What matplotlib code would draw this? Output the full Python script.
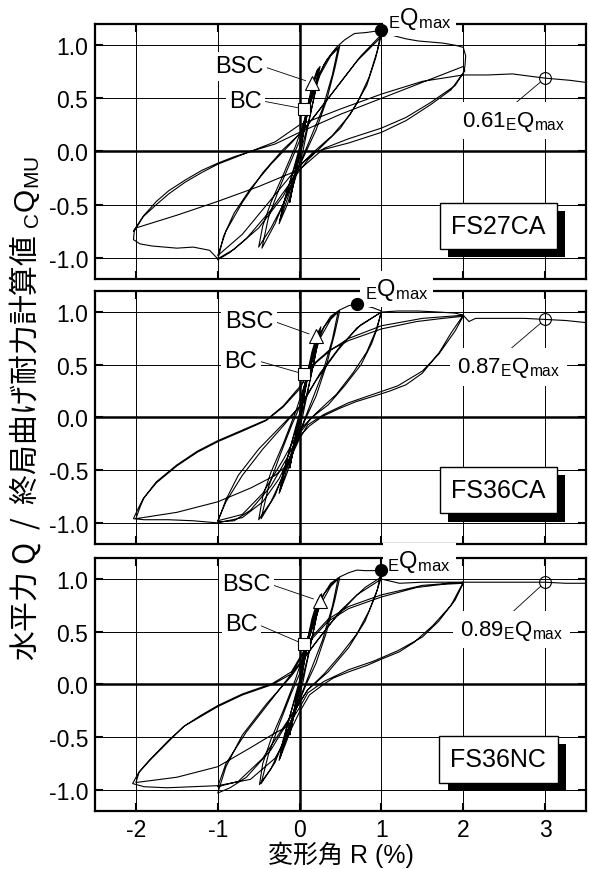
import numpy as np
import matplotlib
matplotlib.use('Agg')
import matplotlib.pyplot as plt
from matplotlib import patheffects

plt.rcParams['font.family'] = ['Liberation Sans', 'Noto Sans CJK JP']
plt.rcParams['mathtext.fontset'] = 'custom'
plt.rcParams['mathtext.rm'] = 'Liberation Sans'
plt.rcParams['mathtext.it'] = 'Liberation Sans'
plt.rcParams['mathtext.bf'] = 'Liberation Sans:bold'
plt.rcParams['axes.unicode_minus'] = False

# 試験体名
specimens = ['FS27CA', 'FS36CA', 'FS36NC']

# 履歴曲線 (変形角 R %, Q / cQmu) 図から読み取り
loop_fs27ca = [
    (0.00, 0.00), (0.05, 0.22), (0.10, 0.42), (0.13, 0.52), (0.08, 0.30), (0.02, 0.05), (-0.05, -0.22),
    (-0.10, -0.40), (-0.12, -0.48), (-0.07, -0.25), (0.00, 0.02), (0.06, 0.30), (0.12, 0.50), (0.07, 0.28),
    (0.00, 0.00), (-0.06, -0.25), (-0.12, -0.47), (-0.05, -0.18), (0.03, 0.10),
    (0.08, 0.35), (0.15, 0.62), (0.21, 0.76), (0.25, 0.80), (0.20, 0.60), (0.12, 0.30), (0.04, 0.00),
    (-0.05, -0.25), (-0.15, -0.50), (-0.25, -0.68), (-0.20, -0.50), (-0.10, -0.25), (0.00, 0.00), (0.08, 0.30),
    (0.16, 0.60), (0.23, 0.78), (0.19, 0.55), (0.10, 0.25), (0.00, -0.05), (-0.12, -0.38), (-0.24, -0.65),
    (-0.17, -0.42), (-0.05, -0.10), (0.04, 0.15),
    (0.10, 0.38), (0.20, 0.64), (0.30, 0.82), (0.40, 0.93), (0.49, 0.99), (0.43, 0.78), (0.33, 0.48),
    (0.20, 0.20), (0.08, 0.00), (-0.05, -0.22), (-0.20, -0.50), (-0.35, -0.72), (-0.50, -0.90), (-0.45, -0.70),
    (-0.35, -0.48), (-0.20, -0.22), (-0.05, 0.05), (0.10, 0.38), (0.25, 0.72), (0.38, 0.90), (0.47, 0.97),
    (0.40, 0.72), (0.28, 0.40), (0.12, 0.10), (0.00, -0.12), (-0.15, -0.40), (-0.30, -0.68), (-0.46, -0.91),
    (-0.38, -0.62), (-0.25, -0.35), (-0.10, -0.08), (0.00, 0.10),
    (0.12, 0.47), (0.22, 0.70), (0.33, 0.86), (0.45, 0.98), (0.55, 1.05), (0.67, 1.11), (0.82, 1.12), (1.00, 1.14),
    (0.95, 0.95), (0.85, 0.70), (0.70, 0.45), (0.50, 0.22), (0.30, 0.07), (0.10, -0.08), (-0.10, -0.28),
    (-0.35, -0.55), (-0.65, -0.82), (-0.85, -0.95), (-1.00, -1.02),
    (-0.93, -0.80), (-0.80, -0.58), (-0.60, -0.35), (-0.35, -0.12), (-0.10, 0.08), (0.15, 0.30), (0.45, 0.60),
    (0.75, 0.90), (1.00, 1.10),
    (0.93, 0.88), (0.82, 0.62), (0.62, 0.35), (0.40, 0.15), (0.15, -0.02), (-0.10, -0.22), (-0.40, -0.50),
    (-0.70, -0.78), (-1.00, -0.98),
    (-0.90, -0.75), (-0.70, -0.48), (-0.45, -0.20), (-0.20, 0.02), (0.05, 0.20), (0.35, 0.50), (0.70, 0.85),
    (1.00, 1.08),
    (1.10, 1.10), (1.20, 1.08), (1.30, 1.06), (1.45, 1.04), (1.60, 1.03), (1.75, 1.02), (1.90, 1.00),
    (2.00, 0.98), (2.03, 0.90), (2.02, 0.80), (2.00, 0.74),
    (1.85, 0.58), (1.60, 0.44), (1.30, 0.29), (1.00, 0.18), (0.60, 0.08), (0.20, 0.00), (0.00, -0.13),
    (-0.20, -0.42), (-0.50, -0.72), (-0.80, -0.92), (-1.00, -1.01), (-1.10, -0.93), (-1.30, -0.90),
    (-1.50, -0.91), (-1.65, -0.90), (-1.80, -0.89), (-1.95, -0.87), (-2.03, -0.83), (-2.02, -0.75),
    (-1.90, -0.60), (-1.75, -0.47), (-1.60, -0.37), (-1.40, -0.27), (-1.20, -0.18), (-1.00, -0.11),
    (-0.80, -0.05), (-0.60, 0.00), (-0.30, 0.07), (0.00, 0.18), (0.50, 0.35), (1.00, 0.50), (1.50, 0.65),
    (1.80, 0.74), (2.00, 0.80),
    (2.02, 0.76), (1.90, 0.62), (1.60, 0.46), (1.30, 0.32), (1.00, 0.22), (0.60, 0.12), (0.30, 0.03),
    (0.00, -0.17),
    (-0.50, -0.33), (-1.00, -0.47), (-1.50, -0.60), (-2.00, -0.72), (-2.03, -0.75),
    (-1.92, -0.62), (-1.75, -0.50), (-1.60, -0.40), (-1.40, -0.29), (-1.20, -0.20), (-1.00, -0.12),
    (-0.80, -0.06), (-0.60, 0.00), (-0.30, 0.09), (0.00, 0.25), (0.50, 0.40), (1.00, 0.54), (1.50, 0.66),
    (2.00, 0.72),
    (2.30, 0.72), (2.60, 0.73), (2.80, 0.71), (3.00, 0.69), (3.30, 0.67), (3.50, 0.65),
]

loop_fs36ca = [
    (0.00, 0.00), (0.05, 0.22), (0.10, 0.42), (0.13, 0.52), (0.08, 0.30), (0.02, 0.05), (-0.05, -0.22),
    (-0.10, -0.40), (-0.12, -0.48), (-0.07, -0.25), (0.00, 0.02), (0.06, 0.30), (0.12, 0.50), (0.07, 0.28),
    (0.00, 0.00), (-0.06, -0.25), (-0.12, -0.47), (-0.05, -0.18), (0.03, 0.10),
    (0.08, 0.36), (0.15, 0.62), (0.22, 0.80), (0.26, 0.86), (0.20, 0.62), (0.12, 0.32), (0.04, 0.02),
    (-0.05, -0.25), (-0.15, -0.52), (-0.25, -0.72), (-0.20, -0.52), (-0.10, -0.25), (0.00, 0.00), (0.08, 0.32),
    (0.16, 0.62), (0.24, 0.82), (0.19, 0.58), (0.10, 0.26), (0.00, -0.05), (-0.12, -0.40), (-0.24, -0.70),
    (-0.17, -0.45), (-0.05, -0.10), (0.04, 0.15),
    (0.10, 0.40), (0.20, 0.68), (0.30, 0.86), (0.40, 0.96), (0.49, 1.01), (0.43, 0.80), (0.33, 0.50),
    (0.20, 0.20), (0.08, 0.00), (-0.05, -0.25), (-0.20, -0.55), (-0.35, -0.80), (-0.50, -0.97), (-0.45, -0.75),
    (-0.35, -0.52), (-0.20, -0.25), (-0.05, 0.05), (0.10, 0.40), (0.25, 0.75), (0.38, 0.93), (0.47, 1.00),
    (0.40, 0.74), (0.28, 0.42), (0.12, 0.10), (0.00, -0.14), (-0.15, -0.44), (-0.30, -0.74), (-0.47, -0.96),
    (-0.38, -0.66), (-0.25, -0.38), (-0.10, -0.08), (0.00, 0.10),
    (0.12, 0.50), (0.25, 0.80), (0.38, 0.96), (0.49, 1.02), (0.60, 1.06), (0.70, 1.08), (0.80, 1.06),
    (0.90, 1.04), (1.00, 1.01),
    (0.95, 0.85), (0.88, 0.70), (0.75, 0.50), (0.55, 0.30), (0.35, 0.12), (0.15, 0.00), (0.00, -0.15),
    (-0.15, -0.38), (-0.35, -0.65), (-0.60, -0.88), (-0.80, -0.98), (-1.00, -0.99),
    (-0.90, -0.78), (-0.75, -0.55), (-0.50, -0.30), (-0.25, -0.10), (0.00, 0.10), (0.20, 0.35), (0.45, 0.62),
    (0.70, 0.85), (1.00, 1.00),
    (0.93, 0.82), (0.82, 0.62), (0.65, 0.42), (0.45, 0.22), (0.20, 0.04), (0.00, -0.12), (-0.20, -0.40),
    (-0.45, -0.72), (-0.70, -0.92), (-1.00, -0.98),
    (-0.90, -0.80), (-0.70, -0.55), (-0.45, -0.30), (-0.20, -0.08), (0.05, 0.15), (0.25, 0.42), (0.50, 0.68),
    (0.75, 0.88), (1.00, 1.00),
    (1.20, 1.01), (1.45, 1.01), (1.70, 1.00), (1.90, 0.99), (2.00, 0.97),
    (1.85, 0.80), (1.71, 0.62), (1.50, 0.42), (1.30, 0.31), (1.10, 0.25), (0.90, 0.20), (0.69, 0.15),
    (0.50, 0.09), (0.28, 0.01), (0.12, -0.08), (0.00, -0.18),
    (-0.10, -0.35), (-0.25, -0.58), (-0.45, -0.80), (-0.70, -0.95), (-1.00, -1.00), (-1.30, -0.98),
    (-1.60, -0.97), (-1.90, -0.97), (-2.03, -0.96),
    (-1.97, -0.86), (-1.91, -0.77), (-1.75, -0.62), (-1.50, -0.46), (-1.25, -0.33), (-1.00, -0.23),
    (-0.70, -0.13), (-0.41, -0.03), (-0.20, 0.10), (0.00, 0.27), (0.16, 0.50), (0.35, 0.63), (0.60, 0.73),
    (1.00, 0.84), (1.43, 0.91), (1.75, 0.94), (2.00, 0.96),
    (1.90, 0.82), (1.70, 0.60), (1.50, 0.44), (1.20, 0.30), (0.90, 0.22), (0.60, 0.14), (0.30, 0.03),
    (0.10, -0.07), (0.00, -0.20),
    (-0.15, -0.45), (-0.30, -0.55), (-0.60, -0.67), (-1.00, -0.80), (-1.50, -0.90), (-2.00, -0.96),
    (-1.95, -0.85), (-1.90, -0.76), (-1.75, -0.61), (-1.50, -0.45), (-1.25, -0.32), (-1.00, -0.22),
    (-0.70, -0.12), (-0.40, -0.02), (-0.20, 0.11), (0.00, 0.29), (0.20, 0.52), (0.40, 0.65), (0.60, 0.75),
    (1.00, 0.87), (1.50, 0.94), (2.00, 0.97),
    (2.07, 0.91), (2.15, 0.94), (2.50, 0.94), (2.75, 0.94), (3.00, 0.93), (3.25, 0.92), (3.50, 0.90),
]

loop_fs36nc = [
    (0.00, 0.00), (0.05, 0.22), (0.10, 0.42), (0.13, 0.52), (0.08, 0.30), (0.02, 0.05), (-0.05, -0.22),
    (-0.10, -0.40), (-0.12, -0.48), (-0.07, -0.25), (0.00, 0.02), (0.06, 0.30), (0.12, 0.50), (0.07, 0.28),
    (0.00, 0.00), (-0.06, -0.25), (-0.12, -0.47), (-0.05, -0.18), (0.03, 0.10),
    (0.08, 0.36), (0.15, 0.62), (0.22, 0.80), (0.27, 0.86), (0.20, 0.62), (0.12, 0.32), (0.04, 0.02),
    (-0.05, -0.25), (-0.15, -0.52), (-0.25, -0.72), (-0.20, -0.52), (-0.10, -0.25), (0.00, 0.00), (0.08, 0.32),
    (0.16, 0.62), (0.25, 0.82), (0.19, 0.58), (0.10, 0.26), (0.00, -0.05), (-0.12, -0.40), (-0.24, -0.70),
    (-0.17, -0.45), (-0.05, -0.10), (0.04, 0.15),
    (0.10, 0.40), (0.20, 0.68), (0.30, 0.86), (0.40, 0.96), (0.49, 1.01), (0.43, 0.80), (0.33, 0.50),
    (0.20, 0.20), (0.08, 0.00), (-0.05, -0.25), (-0.20, -0.55), (-0.35, -0.80), (-0.49, -0.95), (-0.45, -0.75),
    (-0.35, -0.52), (-0.20, -0.25), (-0.05, 0.05), (0.10, 0.40), (0.25, 0.75), (0.38, 0.93), (0.47, 1.00),
    (0.40, 0.74), (0.28, 0.42), (0.12, 0.10), (0.00, -0.14), (-0.15, -0.44), (-0.30, -0.74), (-0.47, -0.94),
    (-0.38, -0.66), (-0.25, -0.38), (-0.10, -0.08), (0.00, 0.10),
    (0.12, 0.50), (0.25, 0.80), (0.38, 0.96), (0.49, 1.02), (0.60, 1.06), (0.70, 1.085), (0.80, 1.08),
    (0.90, 1.08), (1.00, 1.085),
    (0.95, 0.90), (0.85, 0.70), (0.70, 0.48), (0.50, 0.28), (0.30, 0.10), (0.10, -0.05), (-0.10, -0.30),
    (-0.35, -0.62), (-0.65, -0.88), (-0.85, -0.98), (-1.00, -1.03),
    (-0.90, -0.78), (-0.70, -0.48), (-0.40, -0.18), (-0.10, 0.08), (0.20, 0.40), (0.50, 0.70), (0.80, 0.92),
    (1.00, 1.02),
    (0.93, 0.85), (0.80, 0.60), (0.60, 0.35), (0.35, 0.12), (0.10, -0.05), (-0.15, -0.35), (-0.45, -0.70),
    (-0.75, -0.92), (-1.00, -0.97),
    (-0.90, -0.75), (-0.65, -0.45), (-0.40, -0.20), (-0.15, 0.05), (0.10, 0.30), (0.40, 0.60), (0.70, 0.85),
    (1.00, 1.00),
    (1.22, 0.96), (1.50, 0.97), (1.75, 0.97), (2.00, 0.97),
    (1.85, 0.75), (1.63, 0.56), (1.40, 0.40), (1.22, 0.31), (1.00, 0.24), (0.82, 0.18), (0.60, 0.12),
    (0.41, 0.06), (0.29, 0.00), (0.12, -0.10), (0.00, -0.26),
    (-0.15, -0.50), (-0.30, -0.70), (-0.60, -0.90), (-1.00, -0.96), (-1.30, -0.97), (-1.62, -0.98),
    (-1.90, -0.97), (-2.04, -0.94),
    (-1.97, -0.84), (-1.83, -0.72), (-1.60, -0.54), (-1.42, -0.40), (-1.20, -0.30), (-1.00, -0.21),
    (-0.70, -0.10), (-0.33, 0.00), (-0.10, 0.10), (0.00, 0.23), (0.16, 0.44), (0.35, 0.60), (0.60, 0.72),
    (1.00, 0.83), (1.43, 0.92), (1.75, 0.95), (2.00, 0.96),
    (1.90, 0.80), (1.70, 0.60), (1.50, 0.45), (1.20, 0.32), (0.90, 0.22), (0.60, 0.14), (0.30, 0.03),
    (0.10, -0.08), (0.00, -0.22),
    (-0.15, -0.40), (-0.30, -0.46), (-0.60, -0.60), (-1.00, -0.78), (-1.50, -0.88), (-2.00, -0.93),
    (-1.96, -0.83), (-1.85, -0.73), (-1.60, -0.53), (-1.40, -0.39), (-1.20, -0.29), (-1.00, -0.20),
    (-0.70, -0.09), (-0.33, 0.01), (-0.10, 0.12), (0.00, 0.25), (0.16, 0.46), (0.35, 0.62), (0.60, 0.74),
    (1.00, 0.85), (1.50, 0.94), (2.00, 0.97),
    (2.20, 0.97), (2.50, 0.97), (2.75, 0.97), (3.00, 0.97), (3.25, 0.96), (3.50, 0.96),
]

# 最大耐力 EQmax (黒丸)
qmax_r = [1.00, 0.70, 0.99]
qmax_q = [1.14, 1.08, 1.085]
# R=3% 時の耐力 (白丸) と比
r3_r = [3.0, 3.0, 3.0]
r3_q = [0.69, 0.93, 0.97]
r3_ratio = ['0.61', '0.87', '0.89']
# BSC (三角), BC (四角)
bsc_r = [0.155, 0.196, 0.25]
bsc_q = [0.645, 0.77, 0.79]
bc_r = [0.06, 0.06, 0.06]
bc_q = [0.40, 0.41, 0.38]

# 軸の配置
rects = [[0.1613, 0.6782, 0.8336, 0.2931],
         [0.1613, 0.3736, 0.8336, 0.2908],
         [0.1613, 0.0667, 0.8336, 0.2908]]
# ラベル位置 (データ座標)
bsc_txt = [(-0.74, 0.80), (-0.62, 0.915), (-0.65, 0.95)]
bc_txt = [(-0.66, 0.476), (-0.72, 0.54), (-0.71, 0.57)]
emax_txt = [(1.47, 1.255), (1.19, 1.22), (1.46, 1.17)]
r3_txt = [(2.62, 0.29), (2.555, 0.48), (2.59, 0.52)]
name_txt = [(2.43, -0.70), (2.43, -0.69), (2.43, -0.71)]

loops = [loop_fs27ca, loop_fs36ca, loop_fs36nc]
white = dict(boxstyle='square,pad=0.15', fc='w', ec='none')

fig = plt.figure(figsize=(5.89, 8.70), dpi=100)
axes = []
for i in range(3):
    ax = fig.add_axes(rects[i])
    axes.append(ax)
    d = np.array(loops[i])
    ax.plot(d[:, 0], d[:, 1], color='k', lw=0.8, zorder=3)

    ax.set_xlim(-2.5, 3.5)
    ax.set_ylim(-1.2, 1.2)
    ax.set_xticks([-2, -1, 0, 1, 2, 3])
    ax.set_yticks([-1.0, -0.5, 0.0, 0.5, 1.0])
    ax.set_yticklabels(['-1.0', '-0.5', '0.0', '0.5', '1.0'])
    ax.grid(True, color='k', lw=0.7)
    ax.set_axisbelow(True)
    ax.axhline(0, color='k', lw=1.8, zorder=1)
    ax.axvline(0, color='k', lw=1.8, zorder=1)
    ax.tick_params(direction='in', length=6, width=1.5, top=True, right=True,
                   labelsize=16.5, pad=5)
    for s in ax.spines.values():
        s.set_linewidth(1.6)
    if i < 2:
        ax.tick_params(labelbottom=False)

    # markers
    ax.plot(qmax_r[i], qmax_q[i], 'o', ms=8.5, mfc='k', mec='k', zorder=8, clip_on=False)
    ax.plot(r3_r[i], r3_q[i], 'o', ms=8.5, mfc='none', mec='k', mew=0.8, zorder=8)
    ax.plot(bsc_r[i], bsc_q[i], '^', ms=10, mfc='w', mec='k', mew=0.8, zorder=8)
    ax.plot(bc_r[i], bc_q[i], 's', ms=8.5, mfc='w', mec='k', mew=0.8, zorder=8)

    ax.annotate('BSC', xy=(bsc_r[i], bsc_q[i]), xytext=bsc_txt[i], fontsize=17,
                ha='center', va='center', bbox=white, zorder=6,
                arrowprops=dict(arrowstyle='-', lw=0.6, color='k', relpos=(1, 0.5),
                                shrinkA=0, shrinkB=5))
    ax.annotate('BC', xy=(bc_r[i], bc_q[i]), xytext=bc_txt[i], fontsize=17,
                ha='center', va='center', bbox=white, zorder=6,
                arrowprops=dict(arrowstyle='-', lw=0.6, color='k', relpos=(1, 0.5),
                                shrinkA=0, shrinkB=4))
    ax.text(emax_txt[i][0], emax_txt[i][1], r'${}_{\mathrm{E}}\mathrm{Q}_{\mathrm{max}}$',
            fontsize=17, ha='center', va='center', zorder=6, clip_on=False,
            bbox=dict(boxstyle='square,pad=0.2', fc='w', ec='none'))
    ax.annotate(r'$\mathrm{%s}{}_{\mathrm{E}}\mathrm{Q}_{\mathrm{max}}$' % r3_ratio[i],
                xy=(r3_r[i], r3_q[i]), xytext=r3_txt[i], fontsize=16,
                ha='center', va='center', zorder=6,
                bbox=dict(boxstyle='square,pad=0.3', fc='w', ec='none'),
                arrowprops=dict(arrowstyle='-', lw=0.6, color='k', relpos=(0.45, 1.0),
                                shrinkA=0, shrinkB=4))
    shadow = [patheffects.SimplePatchShadow(offset=(6, -6), shadow_rgbFace='k', alpha=1.0),
              patheffects.Normal()]
    ax.text(name_txt[i][0], name_txt[i][1], specimens[i], fontsize=18, ha='center',
            va='center', zorder=6,
            bbox=dict(boxstyle='square,pad=0.45', fc='w', ec='k', lw=1.0,
                      path_effects=shadow))

axes[2].set_xticklabels(['-2', '-1', '0', '1', '2', '3'])
axes[2].set_xlabel('変形角 R (%)', fontsize=18, labelpad=0)

fig.text(0.042, 0.530, '水平力 Q  /  終局曲げ耐力計算値 ${}_{\\mathrm{C}}\\mathrm{Q}_{\\mathrm{MU}}$',
         rotation=90, ha='center', va='center', fontsize=21.5, family='Noto Sans CJK JP')

fig.savefig('out.png', dpi=100)
